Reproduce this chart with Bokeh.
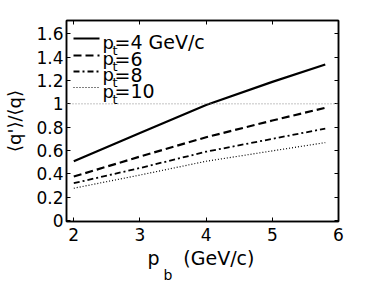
from bokeh.plotting import figure
from bokeh.models import (Label, Span, LinearAxis, Range1d, FixedTicker, Arrow,
                          Title, CustomLabelingPolicy)
from bokeh.embed import file_html
from bokeh.resources import INLINE

# ---- data ----
pb = [2, 3, 4, 5, 5.8]
ratio_pt4 = [0.508, 0.75, 0.99, 1.188, 1.337]
ratio_pt6 = [0.377, 0.548, 0.714, 0.857, 0.966]
ratio_pt8 = [0.32, 0.45, 0.59, 0.70, 0.788]
ratio_pt10 = [0.277, 0.39, 0.508, 0.597, 0.668]
reference_level = 1.0

x_ticks = [2, 3, 4, 5, 6]
y_ticks = [0, 0.2, 0.4, 0.6, 0.8, 1.0, 1.2, 1.4, 1.6]
y_tick_labels = ["0", "0.2", "0.4", "0.6", "0.8", "1", "1.2", "1.4", "1.6"]
legend_values = ["=4 GeV/c", "=6", "=8", "=10"]

FONT = "DejaVu Sans"

p = figure(frame_width=272, frame_height=201,
           x_range=Range1d(1.89, 6.0), y_range=Range1d(-0.008, 1.714),
           output_backend="svg", toolbar_location=None,
           min_border_left=66, min_border_right=36,
           min_border_top=20, min_border_bottom=60)
p.title.visible = False

p.xgrid.visible = False
p.ygrid.visible = False
p.outline_line_color = "black"
p.outline_line_width = 1.5
p.background_fill_color = "white"
p.border_fill_color = "white"

# axes
p.xaxis.ticker = FixedTicker(ticks=x_ticks)
p.yaxis.ticker = FixedTicker(ticks=y_ticks)
p.yaxis.major_label_overrides = {t: l for t, l in zip(y_ticks, y_tick_labels)}
for ax in (p.xaxis[0], p.yaxis[0]):
    ax.major_tick_in = 4
    ax.major_tick_out = 0
    ax.minor_tick_in = 0
    ax.minor_tick_out = 0
    ax.axis_line_color = "black"
    ax.axis_line_width = 1.5
    ax.major_tick_line_color = "black"
    ax.major_label_text_font = FONT
    ax.major_label_text_font_size = "17px"
    ax.major_label_text_color = "black"
p.xaxis.major_label_standoff = 6
p.yaxis.major_label_standoff = 3

p.yaxis.axis_label = "⟨q'⟩/⟨q⟩"
p.yaxis.axis_label_text_font = FONT
p.yaxis.axis_label_text_font_size = "18px"
p.yaxis.axis_label_text_font_style = "normal"
p.yaxis.axis_label_text_color = "black"
p.yaxis.axis_label_standoff = 8

no_labels = CustomLabelingPolicy(
    code="const all = [...indices]; for (const i of all) indices.unset(i); return indices")
for loc, tk in (("right", y_ticks), ("above", x_ticks)):
    ax = LinearAxis(ticker=FixedTicker(ticks=tk), major_label_policy=no_labels)
    ax.major_tick_in = 4
    ax.major_tick_out = 0
    ax.minor_tick_in = 0
    ax.minor_tick_out = 0
    ax.major_label_standoff = 0
    ax.axis_line_color = "black"
    ax.axis_line_width = 1.5
    p.add_layout(ax, loc)

# x axis label: p_b (GeV/c)
xlab = Title(text="p\u2003\u2005(GeV/c)", align="left", offset=81, standoff=2,
             text_font=FONT, text_font_size="19px", text_font_style="normal",
             text_color="black")
sub_b = Title(text="b", align="left", offset=97, standoff=-10,
              text_font=FONT, text_font_size="14px", text_font_style="normal",
              text_color="black")
p.add_layout(xlab, "below")
p.add_layout(sub_b, "below")

# reference line at 1
p.add_layout(Span(location=reference_level, dimension="width",
                  line_color="#888888", line_width=1, line_dash="1 2"))

styles = [
    dict(line_dash="solid", line_width=2.2),
    dict(line_dash="8 4", line_width=2.2),
    dict(line_dash="6 3 2 3", line_width=1.8),
    dict(line_dash="1 2", line_width=1.2),
]
series = [ratio_pt4, ratio_pt6, ratio_pt8, ratio_pt10]
for ys, st in zip(series, styles):
    p.line(pb, ys, line_color="black", **st)

# manual legend (screen units relative to the frame)
line_rows = [183, 166, 150, 134]
text_rows = [179.3, 163, 146.7, 130.4]
for st, ly, ty, txt in zip(styles, line_rows, text_rows, legend_values):
    p.add_layout(Arrow(end=None, x_start=7, y_start=ly, x_end=33, y_end=ly,
                       start_units="screen", end_units="screen",
                       line_color="black", **st))
    p.add_layout(Label(x=36, y=ty, x_units="screen", y_units="screen", text="p",
                       text_font=FONT, text_font_size="18px", text_baseline="alphabetic",
                       text_color="black"))
    p.add_layout(Label(x=46, y=ty - 8, x_units="screen", y_units="screen", text="t",
                       text_font=FONT, text_font_size="13px", text_baseline="alphabetic",
                       text_color="black"))
    p.add_layout(Label(x=48, y=ty, x_units="screen", y_units="screen", text=txt,
                       text_font=FONT, text_font_size="19px", text_baseline="alphabetic",
                       text_color="black"))

open("out.html", "w").write(file_html(p, INLINE))
